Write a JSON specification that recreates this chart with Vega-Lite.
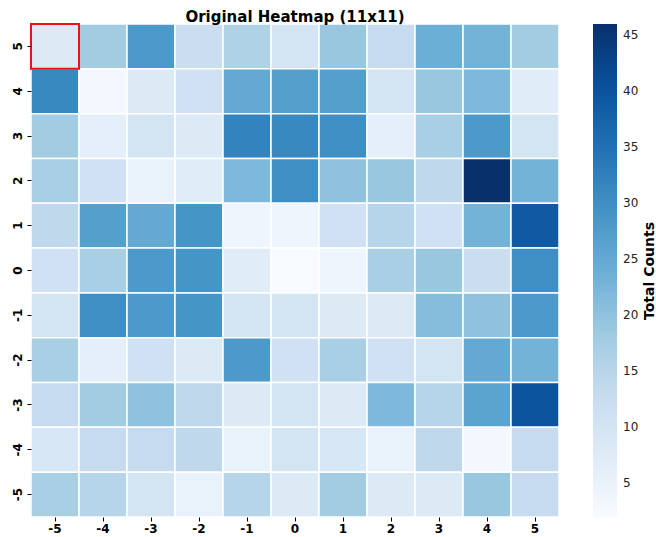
{
  "$schema": "https://vega.github.io/schema/vega-lite/v6.json",
  "autosize": "none",
  "width": 528,
  "height": 493,
  "padding": {"left": 31, "top": 24, "right": 97, "bottom": 20},
  "background": "white",
  "config": {
    "font": "DejaVu Sans",
    "view": {"stroke": null}
  },
  "title": {
    "text": "Original Heatmap (11x11)",
    "fontSize": 15,
    "fontWeight": "bold",
    "font": "DejaVu Sans",
    "color": "#000000",
    "anchor": "middle",
    "offset": -2
  },
  "data": {
    "values": [
      {"row": 5, "col": -5, "count": 8}, {"row": 5, "col": -4, "count": 18}, {"row": 5, "col": -3, "count": 28}, {"row": 5, "col": -2, "count": 12}, {"row": 5, "col": -1, "count": 16}, {"row": 5, "col": 0, "count": 10}, {"row": 5, "col": 1, "count": 19}, {"row": 5, "col": 2, "count": 13}, {"row": 5, "col": 3, "count": 24}, {"row": 5, "col": 4, "count": 23}, {"row": 5, "col": 5, "count": 18},
      {"row": 4, "col": -5, "count": 31}, {"row": 4, "col": -4, "count": 3}, {"row": 4, "col": -3, "count": 8}, {"row": 4, "col": -2, "count": 11}, {"row": 4, "col": -1, "count": 25}, {"row": 4, "col": 0, "count": 27}, {"row": 4, "col": 1, "count": 27}, {"row": 4, "col": 2, "count": 10}, {"row": 4, "col": 3, "count": 19}, {"row": 4, "col": 4, "count": 22}, {"row": 4, "col": 5, "count": 7},
      {"row": 3, "col": -5, "count": 18}, {"row": 3, "col": -4, "count": 6}, {"row": 3, "col": -3, "count": 10}, {"row": 3, "col": -2, "count": 8}, {"row": 3, "col": -1, "count": 32}, {"row": 3, "col": 0, "count": 31}, {"row": 3, "col": 1, "count": 30}, {"row": 3, "col": 2, "count": 6}, {"row": 3, "col": 3, "count": 17}, {"row": 3, "col": 4, "count": 28}, {"row": 3, "col": 5, "count": 10},
      {"row": 2, "col": -5, "count": 17}, {"row": 2, "col": -4, "count": 11}, {"row": 2, "col": -3, "count": 5}, {"row": 2, "col": -2, "count": 7}, {"row": 2, "col": -1, "count": 22}, {"row": 2, "col": 0, "count": 30}, {"row": 2, "col": 1, "count": 20}, {"row": 2, "col": 2, "count": 19}, {"row": 2, "col": 3, "count": 14}, {"row": 2, "col": 4, "count": 46}, {"row": 2, "col": 5, "count": 23},
      {"row": 1, "col": -5, "count": 14}, {"row": 1, "col": -4, "count": 27}, {"row": 1, "col": -3, "count": 25}, {"row": 1, "col": -2, "count": 29}, {"row": 1, "col": -1, "count": 4}, {"row": 1, "col": 0, "count": 4}, {"row": 1, "col": 1, "count": 11}, {"row": 1, "col": 2, "count": 15}, {"row": 1, "col": 3, "count": 11}, {"row": 1, "col": 4, "count": 23}, {"row": 1, "col": 5, "count": 39},
      {"row": 0, "col": -5, "count": 11}, {"row": 0, "col": -4, "count": 17}, {"row": 0, "col": -3, "count": 28}, {"row": 0, "col": -2, "count": 29}, {"row": 0, "col": -1, "count": 7}, {"row": 0, "col": 0, "count": 2}, {"row": 0, "col": 1, "count": 4}, {"row": 0, "col": 2, "count": 17}, {"row": 0, "col": 3, "count": 19}, {"row": 0, "col": 4, "count": 12}, {"row": 0, "col": 5, "count": 30},
      {"row": -1, "col": -5, "count": 10}, {"row": -1, "col": -4, "count": 30}, {"row": -1, "col": -3, "count": 28}, {"row": -1, "col": -2, "count": 29}, {"row": -1, "col": -1, "count": 10}, {"row": -1, "col": 0, "count": 10}, {"row": -1, "col": 1, "count": 8}, {"row": -1, "col": 2, "count": 8}, {"row": -1, "col": 3, "count": 21}, {"row": -1, "col": 4, "count": 20}, {"row": -1, "col": 5, "count": 28},
      {"row": -2, "col": -5, "count": 17}, {"row": -2, "col": -4, "count": 6}, {"row": -2, "col": -3, "count": 11}, {"row": -2, "col": -2, "count": 8}, {"row": -2, "col": -1, "count": 28}, {"row": -2, "col": 0, "count": 11}, {"row": -2, "col": 1, "count": 17}, {"row": -2, "col": 2, "count": 11}, {"row": -2, "col": 3, "count": 10}, {"row": -2, "col": 4, "count": 25}, {"row": -2, "col": 5, "count": 23},
      {"row": -3, "col": -5, "count": 13}, {"row": -3, "col": -4, "count": 18}, {"row": -3, "col": -3, "count": 20}, {"row": -3, "col": -2, "count": 14}, {"row": -3, "col": -1, "count": 8}, {"row": -3, "col": 0, "count": 10}, {"row": -3, "col": 1, "count": 8}, {"row": -3, "col": 2, "count": 22}, {"row": -3, "col": 3, "count": 15}, {"row": -3, "col": 4, "count": 26}, {"row": -3, "col": 5, "count": 40},
      {"row": -4, "col": -5, "count": 9}, {"row": -4, "col": -4, "count": 13}, {"row": -4, "col": -3, "count": 13}, {"row": -4, "col": -2, "count": 14}, {"row": -4, "col": -1, "count": 5}, {"row": -4, "col": 0, "count": 10}, {"row": -4, "col": 1, "count": 9}, {"row": -4, "col": 2, "count": 5}, {"row": -4, "col": 3, "count": 14}, {"row": -4, "col": 4, "count": 3}, {"row": -4, "col": 5, "count": 13},
      {"row": -5, "col": -5, "count": 17}, {"row": -5, "col": -4, "count": 15}, {"row": -5, "col": -3, "count": 10}, {"row": -5, "col": -2, "count": 5}, {"row": -5, "col": -1, "count": 15}, {"row": -5, "col": 0, "count": 8}, {"row": -5, "col": 1, "count": 18}, {"row": -5, "col": 2, "count": 8}, {"row": -5, "col": 3, "count": 8}, {"row": -5, "col": 4, "count": 19}, {"row": -5, "col": 5, "count": 13}
    ]
  },
  "encoding": {
    "x": {
      "field": "col",
      "type": "ordinal",
      "sort": "ascending",
      "scale": {"paddingInner": 0, "paddingOuter": 0},
      "axis": {
        "title": null,
        "labelAngle": 0,
        "labelFont": "DejaVu Sans",
        "labelFontSize": 12,
        "labelFontWeight": "bold",
        "labelColor": "#000000",
        "domain": false,
        "ticks": true,
        "tickSize": 4,
        "tickColor": "#000000",
        "labelPadding": 2
      }
    },
    "y": {
      "field": "row",
      "type": "ordinal",
      "sort": "descending",
      "scale": {"paddingInner": 0, "paddingOuter": 0},
      "axis": {
        "title": null,
        "labelAngle": -90,
        "labelAlign": "center",
        "labelBaseline": "bottom",
        "labelFont": "DejaVu Sans",
        "labelFontSize": 12,
        "labelFontWeight": "bold",
        "labelColor": "#000000",
        "domain": false,
        "ticks": true,
        "tickSize": 4,
        "tickColor": "#000000",
        "labelPadding": 3
      }
    }
  },
  "layer": [
    {
      "mark": {"type": "rect", "stroke": "white", "strokeWidth": 1.5},
      "encoding": {
        "color": {
          "field": "count",
          "type": "quantitative",
          "scale": {
            "type": "linear",
            "domain": [2, 7.5, 13, 18.5, 24, 29.5, 35, 40.5, 46],
            "range": ["#f7fbff", "#deebf7", "#c6dbef", "#9ecae1", "#6baed6", "#4292c6", "#2171b5", "#08519c", "#08306b"],
            "interpolate": "rgb"
          },
          "legend": {
            "title": "Total Counts",
            "titleOrient": "right",
            "titleFont": "DejaVu Sans",
            "titleFontSize": 14,
            "titleFontWeight": "bold",
            "titleColor": "#000000",
            "titleAlign": "center",
            "titleBaseline": "top",
            "titlePadding": 5,
            "gradientLength": 493,
            "gradientThickness": 24,
            "gradientStrokeWidth": 0,
            "values": [5, 10, 15, 20, 25, 30, 35, 40, 45],
            "labelFont": "DejaVu Sans",
            "labelFontSize": 12,
            "labelColor": "#222222",
            "labelOverlap": false,
            "labelOffset": 6,
            "offset": 34,
            "padding": 0,
            "encode": {
              "title": {"update": {"angle": {"value": -90}}}
            }
          }
        }
      }
    },
    {
      "transform": [{"filter": "datum.row == 5 && datum.col == -5"}],
      "mark": {"type": "rect", "fill": null, "fillOpacity": 0, "stroke": "#ee1111", "strokeWidth": 2},
      "encoding": {}
    }
  ]
}
